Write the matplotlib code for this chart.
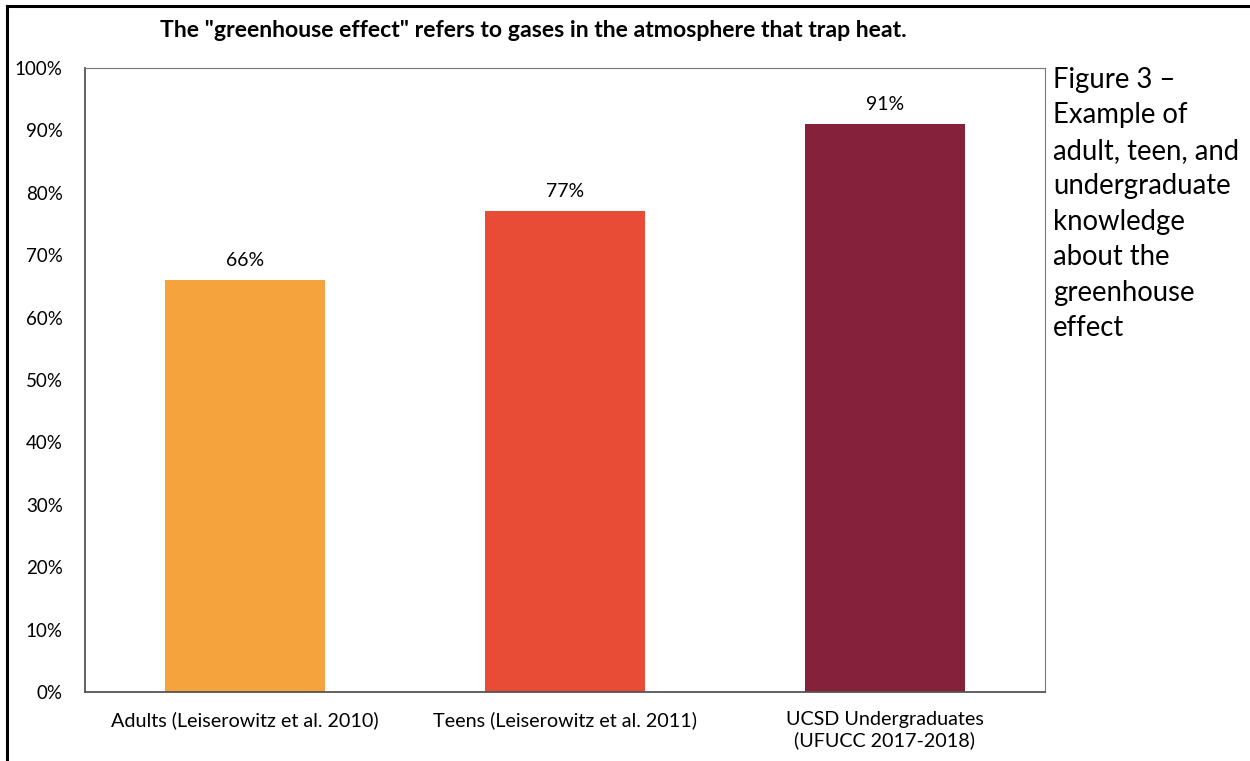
import matplotlib.pyplot as plt
from matplotlib.lines import Line2D

plt.rcParams['font.family'] = ['Lato', 'DejaVu Sans']

# data
groups = ['Adults (Leiserowitz et al. 2010)',
          'Teens (Leiserowitz et al. 2011)',
          'UCSD Undergraduates\n(UFUCC 2017-2018)']
values = [66, 77, 91]
colors = ['#F4A33D', '#E84C36', '#85213A']
yticks = [0, 10, 20, 30, 40, 50, 60, 70, 80, 90, 100]

fig = plt.figure(figsize=(12.5, 7.61), dpi=100)
ax = fig.add_axes([0.068, 0.0907, 0.768, 0.82])

x = range(len(values))
bars = ax.bar(x, values, width=0.5, color=colors)
for b, v in zip(bars, values):
    ax.text(b.get_x() + b.get_width() / 2, v + 1.8, f'{v}%',
            ha='center', va='bottom', fontsize=14)

ax.set_xlim(-0.5, 2.5)
ax.set_ylim(0, 100)
ax.set_yticks(yticks)
ax.set_yticklabels([f'{t}%' for t in yticks], fontsize=13.5)
ax.set_xticks(list(x))
ax.set_xticklabels(groups, fontsize=14.2, linespacing=1.2)
ax.tick_params(axis='y', length=0, pad=16)
ax.tick_params(axis='x', length=0, pad=14)
for s in ['left', 'bottom']:
    ax.spines[s].set_color('#555555')
    ax.spines[s].set_linewidth(1.3)
for s in ['top', 'right']:
    ax.spines[s].set_color('#777777')
    ax.spines[s].set_linewidth(0.8)

fig.text(0.427, 0.96, 'The "greenhouse effect" refers to gases in the atmosphere that trap heat.',
         ha='center', va='center', fontsize=16.6, fontweight='bold')

fig.text(0.8425, 0.912,
         'Figure 3 –\nExample of\nadult, teen, and\nundergraduate\nknowledge\nabout the\ngreenhouse\neffect',
         ha='left', va='top', fontsize=19.8, linespacing=1.45)

# page frame lines
fig.add_artist(Line2D([0.0056, 1.0], [0.9915, 0.9915], color='black', lw=2.2))
fig.add_artist(Line2D([0.0056, 0.0056], [0.0, 0.9915], color='black', lw=2.2))

fig.savefig('out.png', dpi=100)
